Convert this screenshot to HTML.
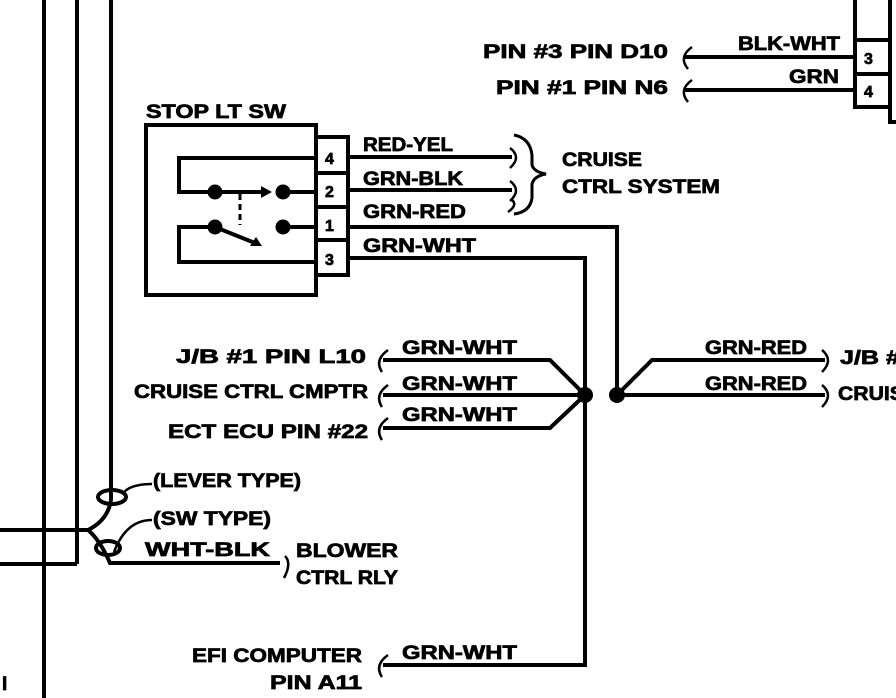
<!DOCTYPE html>
<html><head><meta charset="utf-8"><style>
body{margin:0;background:#fff}
svg{display:block}
text{font-family:"Liberation Sans",sans-serif;font-weight:bold;fill:#000;stroke:#000;stroke-width:0.7}
</style></head><body>
<svg width="896" height="698" viewBox="0 0 896 698" xmlns="http://www.w3.org/2000/svg">
<g stroke="#000" stroke-width="4" fill="none">
<line x1="44" y1="0" x2="44" y2="698"/>
<line x1="77" y1="0" x2="77" y2="564"/>
<line x1="111" y1="0" x2="111" y2="500"/>
<line x1="0" y1="530" x2="88" y2="530"/>
<line x1="0" y1="564" x2="77" y2="564"/>
<path d="M111 500 Q108 520 88 530 Q100 540 110 563 L280 563"/>
<ellipse cx="112" cy="497" rx="14" ry="7"/>
<ellipse cx="108" cy="548" rx="12" ry="7"/>
<path d="M124 492 Q132 484 152 484" stroke-width="2.5"/>
<path d="M114 552 Q126 520 152 520" stroke-width="2.5"/>
<path d="M285 556 Q292 563 284 578" stroke-width="2.5"/>
<rect x="146" y="125" width="170" height="170"/>
<rect x="316" y="137" width="32" height="36"/>
<rect x="316" y="173" width="32" height="34"/>
<rect x="316" y="207" width="32" height="33"/>
<rect x="316" y="240" width="32" height="35"/>
<path d="M316 158 L179 158 L179 192 L265 192"/>
<path d="M283 192 L316 192"/>
<path d="M316 262 L179 262 L179 227 L215 227 L255 243"/>
<path d="M283 227 L316 227"/>
<line x1="240" y1="194" x2="240" y2="225" stroke-dasharray="6 4" stroke-width="3"/>
<line x1="348" y1="157" x2="512" y2="157"/>
<line x1="348" y1="190" x2="512" y2="190"/>
<path d="M348 227 L617 227 L617 395"/>
<path d="M348 258 L585 258 L585 665 L383 665"/>
<path d="M514 135 Q530 138 532 155 L532 165 Q534 172 546 174 Q534 176 532 184 L532 198 Q530 212 514 214" stroke-width="3"/>
<path d="M510 148 Q522 157 510 168 M510 181 Q522 190 510 201 M512 200 Q518 205 508 212" stroke-width="2.5"/>
<path d="M383 360 L550 360 L585 395 M383 395 L585 395 M383 428 L550 428 L585 395"/>
<path d="M388 350 Q374 360 382 372 M388 385 Q374 395 382 407 M388 418 Q374 428 382 440 M388 655 Q374 665 382 677" stroke-width="2.5"/>
<path d="M617 395 L652 360 L825 360 M617 395 L825 395"/>
<path d="M822 350 Q834 360 822 372 M822 385 Q834 395 822 407" stroke-width="2.5"/>
<line x1="685" y1="57" x2="855" y2="57"/>
<line x1="685" y1="90" x2="855" y2="90"/>
<path d="M692 47 Q678 57 688 69 M692 80 Q678 90 688 102" stroke-width="2.5"/>
<rect x="855" y="40" width="35" height="34"/>
<rect x="855" y="74" width="35" height="33"/>
<line x1="855" y1="0" x2="855" y2="40"/>
<path d="M890 0 L890 122 L896 122"/>
</g>
<g fill="#000">
<circle cx="215" cy="192" r="7.5"/><circle cx="283" cy="192" r="7.5"/>
<circle cx="215" cy="227" r="7.5"/><circle cx="283" cy="227" r="7.5"/>
<polygon points="272,192 261,186 261,198"/>
<polygon points="262,246 250,246 256,237"/>
<circle cx="585" cy="395" r="8"/><circle cx="617" cy="395" r="8"/>
</g>
<g font-size="19" lengthAdjust="spacingAndGlyphs">
<text x="146" y="118" textLength="140" lengthAdjust="spacingAndGlyphs">STOP  LT SW</text>
<text x="325" y="164" font-size="16">4</text>
<text x="325" y="197" font-size="16">2</text>
<text x="325" y="231" font-size="16">1</text>
<text x="325" y="265" font-size="16">3</text>
<text x="864" y="64" font-size="16">3</text>
<text x="864" y="97" font-size="16">4</text>
<text x="363" y="151" textLength="90" lengthAdjust="spacingAndGlyphs">RED-YEL</text>
<text x="363" y="185" textLength="100" lengthAdjust="spacingAndGlyphs">GRN-BLK</text>
<text x="363" y="218" textLength="103" lengthAdjust="spacingAndGlyphs">GRN-RED</text>
<text x="363" y="252" textLength="113" lengthAdjust="spacingAndGlyphs">GRN-WHT</text>
<text x="562" y="166" textLength="80" lengthAdjust="spacingAndGlyphs">CRUISE</text>
<text x="562" y="193" textLength="158" lengthAdjust="spacingAndGlyphs">CTRL  SYSTEM</text>
<text x="483" y="58" textLength="185" lengthAdjust="spacingAndGlyphs">PIN #3 PIN D10</text>
<text x="496" y="94" textLength="172" lengthAdjust="spacingAndGlyphs">PIN #1  PIN N6</text>
<text x="738" y="50" textLength="102" lengthAdjust="spacingAndGlyphs">BLK-WHT</text>
<text x="789" y="83" textLength="50" lengthAdjust="spacingAndGlyphs">GRN</text>
<text x="176" y="363" textLength="190" lengthAdjust="spacingAndGlyphs">J/B #1 PIN L10</text>
<text x="134" y="398" textLength="234" lengthAdjust="spacingAndGlyphs">CRUISE CTRL CMPTR</text>
<text x="168" y="438" textLength="200" lengthAdjust="spacingAndGlyphs">ECT ECU PIN #22</text>
<text x="402" y="354" textLength="115" lengthAdjust="spacingAndGlyphs">GRN-WHT</text>
<text x="402" y="390" textLength="115" lengthAdjust="spacingAndGlyphs">GRN-WHT</text>
<text x="402" y="421" textLength="115" lengthAdjust="spacingAndGlyphs">GRN-WHT</text>
<text x="705" y="354" textLength="102" lengthAdjust="spacingAndGlyphs">GRN-RED</text>
<text x="705" y="390" textLength="102" lengthAdjust="spacingAndGlyphs">GRN-RED</text>
<text x="840" y="364" textLength="60" lengthAdjust="spacingAndGlyphs">J/B #</text>
<text x="838" y="400" textLength="80" lengthAdjust="spacingAndGlyphs">CRUISE</text>
<text x="153" y="487" textLength="148" lengthAdjust="spacingAndGlyphs">(LEVER TYPE)</text>
<text x="153" y="525" textLength="118" lengthAdjust="spacingAndGlyphs">(SW TYPE)</text>
<text x="145" y="556" textLength="125" lengthAdjust="spacingAndGlyphs">WHT-BLK</text>
<text x="296" y="557" textLength="102" lengthAdjust="spacingAndGlyphs">BLOWER</text>
<text x="296" y="584" textLength="102" lengthAdjust="spacingAndGlyphs">CTRL RLY</text>
<text x="192" y="662" textLength="170" lengthAdjust="spacingAndGlyphs">EFI COMPUTER</text>
<text x="270" y="689" textLength="92" lengthAdjust="spacingAndGlyphs">PIN A11</text>
<text x="402" y="659" textLength="115" lengthAdjust="spacingAndGlyphs">GRN-WHT</text>
<text x="2" y="690">I</text>
</g>
</svg>
</body></html>
